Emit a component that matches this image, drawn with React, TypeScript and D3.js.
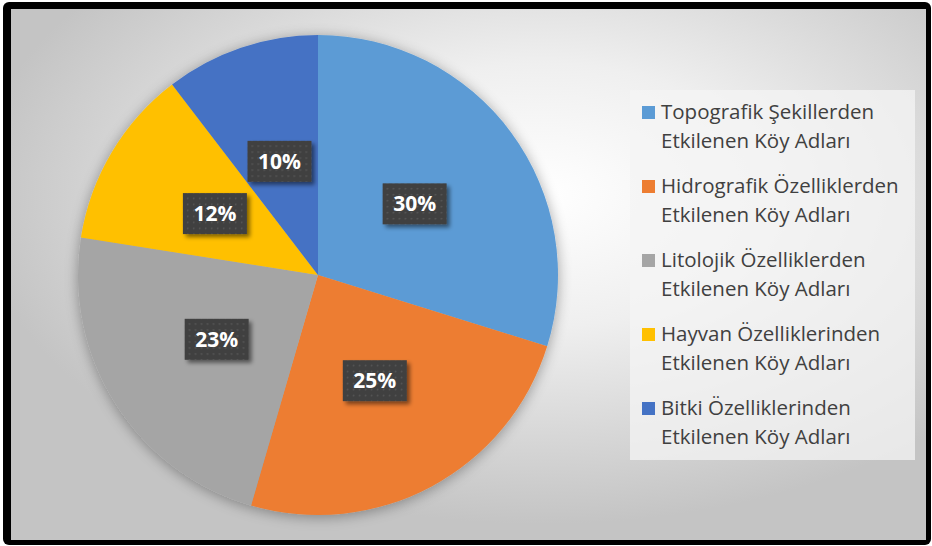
import React from "react";
import * as d3 from "d3";

const categories = [
  ["Topografik Şekillerden", "Etkilenen Köy Adları"],
  ["Hidrografik Özelliklerden", "Etkilenen Köy Adları"],
  ["Litolojik Özelliklerden", "Etkilenen Köy Adları"],
  ["Hayvan Özelliklerinden", "Etkilenen Köy Adları"],
  ["Bitki Özelliklerinden", "Etkilenen Köy Adları"],
];
const values = [29.8, 24.7, 23.0, 12.1, 10.4];
const colors = ["#5B9BD5", "#ED7D31", "#A5A5A5", "#FFC000", "#4472C4"];

const W = 932;
const H = 546;
const cx = 318;
const cy = 275;
const R = 240;

export default function App() {
  const total = d3.sum(values);
  const pie = d3.pie<number>().sort(null).value((d) => d)(values);
  const arc = d3.arc<d3.PieArcDatum<number>>().innerRadius(0).outerRadius(R);
  const fmt = (v: number) => `${Math.round((v / total) * 100)}%`;

  const legendX = 630;
  const legendY = 90;
  const itemH = 74;

  return (
    <svg
      width={W}
      height={H}
      style={{ position: "absolute", left: 0, top: 0 }}
      fontFamily="'Open Sans', sans-serif"
    >
      <defs>
        <radialGradient id="bg" cx="0.58" cy="0.35" r="0.62" gradientUnits="objectBoundingBox">
          <stop offset="0" stopColor="#ffffff" />
          <stop offset="0.4" stopColor="#efefef" />
          <stop offset="1" stopColor="#c4c4c4" />
        </radialGradient>
        <filter id="pieShadow" x="-20%" y="-20%" width="140%" height="140%">
          <feGaussianBlur in="SourceAlpha" stdDeviation="7" />
          <feOffset dx="0" dy="2" result="b" />
          <feComponentTransfer>
            <feFuncA type="linear" slope="0.35" />
          </feComponentTransfer>
          <feMerge>
            <feMergeNode />
            <feMergeNode in="SourceGraphic" />
          </feMerge>
        </filter>
        <filter id="boxShadow" x="-30%" y="-30%" width="160%" height="160%">
          <feGaussianBlur in="SourceAlpha" stdDeviation="2" />
          <feOffset dx="3" dy="3" />
          <feComponentTransfer>
            <feFuncA type="linear" slope="0.5" />
          </feComponentTransfer>
          <feMerge>
            <feMergeNode />
            <feMergeNode in="SourceGraphic" />
          </feMerge>
        </filter>
        <pattern id="dots" width="6" height="6" patternUnits="userSpaceOnUse">
          <rect width="6" height="6" fill="#404040" />
          <rect x="2" y="2" width="1.5" height="1.5" fill="#595959" />
        </pattern>
      </defs>

      <rect x={3} y={2} width={928} height={543} rx={6} fill="#000" />
      <rect x={11} y={9} width={915} height={531} fill="url(#bg)" />

      <g transform={`translate(${cx},${cy})`}>
        <g filter="url(#pieShadow)">
          {pie.map((d, i) => (
            <path key={i} d={arc(d) || ""} fill={colors[i]} />
          ))}
        </g>
        {pie.map((d, i) => {
          const [lx, ly] = arc.centroid(d);
          const bw = 64;
          const bh = 41;
          return (
            <g key={`l${i}`} transform={`translate(${lx},${ly})`}>
              <rect
                x={-bw / 2}
                y={-bh / 2}
                width={bw}
                height={bh}
                fill="url(#dots)"
                filter="url(#boxShadow)"
              />
              <text
                x={0}
                y={0}
                dy="0.36em"
                textAnchor="middle"
                fill="#ffffff"
                fontWeight="bold"
                fontSize={21}
              >
                {fmt(d.data)}
              </text>
            </g>
          );
        })}
      </g>

      <rect x={legendX} y={legendY} width={285} height={370} fill="#f4f4f4" opacity={0.75} />
      {categories.map((lines, i) => {
        const y0 = legendY + i * itemH;
        return (
          <g key={`lg${i}`}>
            <rect x={642} y={y0 + 16} width={13} height={13} fill={colors[i]} />
            {lines.map((t, j) => (
              <text
                key={j}
                x={661}
                y={y0 + 29 + j * 29}
                fontSize={20.5}
                fill="#404040"
              >
                {t}
              </text>
            ))}
          </g>
        );
      })}
    </svg>
  );
}
